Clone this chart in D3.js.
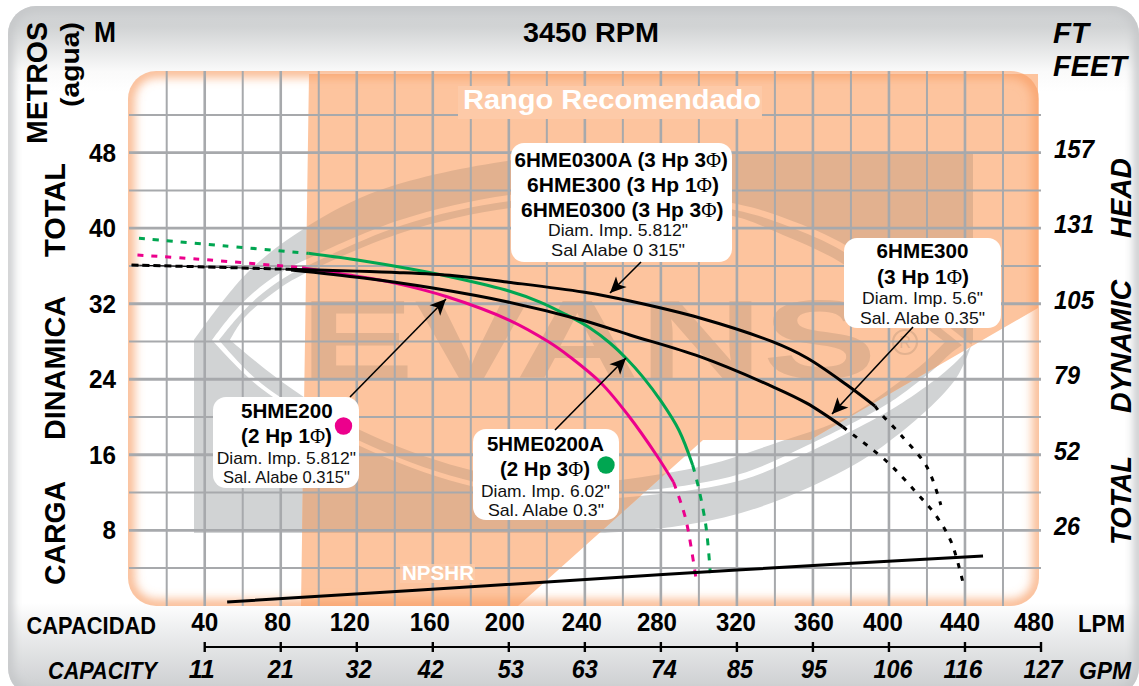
<!DOCTYPE html>
<html><head><meta charset="utf-8">
<script src="https://cdn.jsdelivr.net/npm/d3@7"></script>
<style>html,body{margin:0;padding:0;background:#fff}svg{display:block}text{font-family:"Liberation Sans",Arial,sans-serif}</style>
</head><body><svg id="c" width="1139" height="686"></svg>
<script>
// ---- data (capacity in LPM, head in metres) ----
const lpmTicks=[40,80,120,160,200,240,280,320,360,400,440,480];
const lpmNudge=[0,-3,-7,-3,-4,-3,-4,-1,1,-6,-5,-7];
const gpmLabels=[11,21,32,42,53,63,74,85,95,106,116,127];
const gpmNudge=[-3,0,2,-2,2,0,3,3,1,4,-2,2];
const meterTicks=[48,40,32,24,16,8];
const feetLabels=[157,131,105,79,52,26];
const green=[[94.5,37.34],[123.6,36.53],[148.5,35.68],[169.6,34.83],[200.1,33.35],[216.4,32.18],[229.5,30.91],[242.7,29.43],[253.2,27.84],[261.6,26.25],[270.6,24.23],[280,21.7],[289.5,18.6],[296.7,14.92]];
const greenDashA=[[5.4,38.93],[49.6,38.15],[94.5,37.34]];
const greenDashB=[[296.7,14.92],[299.5,12.8],[303.7,8.45],[306,3.47]];
const pink=[[91.2,35.82],[115.9,35.04],[140.6,34.16],[167.5,32.74],[200.1,30.27],[221.1,27.94],[232.2,26.36],[248.5,23.6],[262.7,20.21],[278,15.87],[286.6,13.11]];
const pinkDashA=[[4.6,37.16],[35.4,36.74],[91.2,35.82]];
const pinkDashB=[[286.6,13.11],[288.5,12.09],[293.2,9.09],[298.6,2.73]];
const blackDashA=[[1.5,36.1],[40,35.9],[83.3,35.65]];
const blackUpper=[[83.3,35.65],[142.7,35.29],[171.3,34.96],[199,34.3],[239,33.24],[263.7,32.29],[300.6,30.49],[339,27.95],[356.9,26.25],[377.9,23.39],[392.6,21.17]];
const blackUpperDash=[[392.6,21.17],[395.5,20.42],[406.3,18.09],[420,14.7],[427.3,10.68]];
const blackLower=[[85.4,35.57],[123.6,34.72],[160,33.66],[198.9,32.21],[238.3,30.27],[263.7,28.69],[300.6,26.39],[339,23.2],[356.7,21.47],[375.7,18.97]];
const blackLowerDash=[[375.7,18.97],[380,18.3],[399.2,15.23],[414.6,11.95],[424.5,9.62],[432.7,6.79],[439,2.42]];
const npshr=[[51.8,0.4],[232.2,2.68],[320,3.79],[449.5,5.28]];

// ---- scales ----
const x=d3.scaleLinear().domain([0,480]).range([128.7,1041]);
const y=d3.scaleLinear().domain([0,48]).range([605.8,152.7]);
const svg=d3.select('#c');
const defs=svg.append('defs');
const gray='#d1d3d4',tan='#e2b18f',orange='#fdc49e',gridc='#a7a9ac';

// defs
const bgG=defs.append('linearGradient').attr('id','bg').attr('x1',0).attr('x2',0).attr('y1',0).attr('y2',1);
[[0,'#cfd1d3'],[.03,'#d1d3d4'],[.095,'#fafafa'],[.125,'#ffffff'],[.865,'#ffffff'],[.9,'#eff0f1'],[1,'#c9cbcd']].forEach(s=>bgG.append('stop').attr('offset',s[0]).attr('stop-color',s[1]));
const blur=(id,s)=>defs.append('filter').attr('id',id).attr('x','-5%').attr('y','-5%').attr('width','110%').attr('height','110%').append('feGaussianBlur').attr('stdDeviation',s);
blur('b1',5);blur('b2',6);
defs.append('clipPath').attr('id','panelClip').append('rect').attr('x',128).attr('y',71).attr('width',911).attr('height',535).attr('rx',28);
defs.append('clipPath').attr('id','bgClip').append('rect').attr('x',8).attr('y',6).attr('width',1131).attr('height',690).attr('rx',28);
const orangePts=[[309,74],[1038,74],[1038,308],[810,440],[703,440],[518,606],[301,606]];
const orangeD='M'+orangePts.join('L')+'Z';
defs.append('clipPath').attr('id','orangeClip').append('path').attr('d',orangeD);
const marker=defs.append('marker').attr('id','arrow').attr('markerUnits','userSpaceOnUse').attr('markerWidth',20).attr('markerHeight',20).attr('refX',16).attr('refY',8).attr('orient','auto').attr('overflow','visible');
marker.append('path').attr('d','M16,8L0,0.5L4,8L0,15.5Z').attr('fill','#000');

// helper for fitted text
function T(g,str,x1,x2,base,size,o={}){
  const t=g.append('text').attr('x',x1).attr('y',base).attr('font-size',size)
    .attr('font-weight',o.w||'bold').attr('font-style',o.i?'italic':'normal').attr('fill',o.c||'#000')
    .attr('textLength',x2-x1).attr('lengthAdjust','spacingAndGlyphs');
  String(str).split('Φ').forEach((p,i)=>{
    if(i>0) t.append('tspan').attr('font-family','"Liberation Serif",serif').attr('font-weight','normal').text('Φ');
    if(p) t.append('tspan').text(p);
  });
  return t;
}
function V(g,str,xb,yTop,yBot,size,o={}){ // rotated -90
  const t=g.append('text').attr('transform',`translate(${xb},${yBot}) rotate(-90)`).attr('font-size',size)
    .attr('font-weight','bold').attr('font-style',o.i?'italic':'normal').attr('fill','#000')
    .attr('textLength',yBot-yTop).attr('lengthAdjust','spacingAndGlyphs').text(str);
  return t;
}

// background
const bg=svg.append('g');
bg.append('rect').attr('x',8).attr('y',6).attr('width',1131).attr('height',690).attr('rx',28).attr('fill','url(#bg)');
bg.append('g').attr('clip-path','url(#bgClip)').append('rect').attr('x',8).attr('y',6).attr('width',1131).attr('height',690).attr('rx',28)
  .attr('fill','none').attr('stroke','#c4c6c8').attr('stroke-width',10).attr('filter','url(#b1)');

// panel
svg.append('rect').attr('x',128).attr('y',71).attr('width',911).attr('height',535).attr('rx',28).attr('fill','#fff');

// logo
const cr=d3.line().curve(d3.curveCatmullRom.alpha(.5));
const outerTop=[[194,340],[247,273],[305,228],[380,190],[513,160],[620,153]];
const outerBot=[[973,340],[955,380],[879,449],[810,487],[741,513],[672,527],[603,533]];
const outerD=cr(outerTop)+'L973,153'+'L'+cr(outerBot).slice(1)+'L194,533Z';
const s1=cr([[212,340],[233,313],[253,293],[280,273],[305,260],[400,220],[509,195],[620,190],[737,204],[787,219],[847,246],[905,292],[972,345]])+'L'+cr([[972,345],[958,360],[940,376],[902,403],[880,416],[811,451],[742,480],[650,495],[560,499],[463,484],[360,446],[262,389],[212,340]]).slice(1)+'Z';
const s2=cr([[219,340],[238,317],[258,297],[284,278],[309,265],[403,225],[510,201],[620,196],[735,210],[785,225],[844,252],[900,296],[962,345]])+'L'+cr([[962,345],[950,354],[934,369],[898,397],[877,410],[808,445],[740,474],[650,490],[560,494],[463,479],[360,441],[262,384],[219,340]]).slice(1)+'Z';
const hollow=cr([[230,340],[245,317],[280,288],[306,273],[404,232],[510,208],[620,203],[733,216],[783,235],[840,262],[895,304],[945,342]])+'L'+cr([[945,342],[925,362],[895,385],[845,418],[776,443],[707,465],[620,480],[560,484],[463,468],[360,430],[285,384],[230,340]]).slice(1)+'Z';
const logoD=outerD+s1+s2+hollow;
const drawLogo=(g,c)=>{
  g.append('path').attr('d',logoD).attr('fill-rule','evenodd').attr('fill',c);
  g.append('text').attr('x',300).attr('y',378).attr('font-size',111).attr('font-weight','bold').attr('fill',c)
    .attr('textLength',577).attr('lengthAdjust','spacingAndGlyphs').text('EVANS');
};
drawLogo(svg.append('g'),gray);
svg.append('path').attr('d',orangeD).attr('fill',orange);
const tanG=svg.append('g').attr('clip-path','url(#orangeClip)');
drawLogo(tanG,tan);
tanG.append('circle').attr('cx',905).attr('cy',342).attr('r',12).attr('fill','none').attr('stroke',tan).attr('stroke-width',2.2);
tanG.append('text').attr('x',905).attr('y',348).attr('text-anchor','middle').attr('font-size',16).attr('fill',tan).text('R');

// panel glow
svg.append('g').attr('clip-path','url(#panelClip)').append('rect').attr('x',128).attr('y',71).attr('width',911).attr('height',535).attr('rx',28)
  .attr('fill','none').attr('stroke','#f79a5e').attr('stroke-width',9).attr('filter','url(#b2)');

// grid via axes
const gridX=svg.append('g').attr('transform','translate(0,606)')
  .call(d3.axisBottom(x).tickValues(d3.range(20,480,20)).tickSizeOuter(0).tickSizeInner(-535).tickFormat('').offset(0));
gridX.select('.domain').remove();
gridX.selectAll('line').attr('stroke',gridc).attr('stroke-width',d=>d%40==0?2.6:2);
const gridY=svg.append('g').attr('transform','translate(129,0)')
  .call(d3.axisRight(y).tickValues(d3.range(4,56,4)).tickSizeOuter(0).tickSizeInner(912).tickFormat('').offset(0));
gridY.select('.domain').remove();
gridY.selectAll('line').attr('stroke',gridc).attr('stroke-width',d=>d%8==0?2.8:2);

// rango label
svg.append('rect').attr('x',458).attr('y',86).attr('width',304).attr('height',33).attr('fill','#fdcaa8');
T(svg,'Rango Recomendado',463,761,109,27,{c:'#fff'});

// series
const line=d3.line().x(d=>x(d[0])).y(d=>y(d[1])).curve(d3.curveCatmullRom.alpha(.5));
const gS=svg.append('g').attr('fill','none');
const draw=(d,c,w,dash)=>gS.append('path').datum(d).attr('d',line).attr('stroke',c).attr('stroke-width',w).attr('stroke-dasharray',dash||null);
const G='#00a651',P='#ec008c',K='#000';
draw(greenDashA,G,3,'6,8');draw(greenDashB,G,3,'7,8');
draw(pinkDashA,P,3,'6,8');draw(pinkDashB,P,3,'7,8');
draw(blackDashA,K,1,null);draw(blackDashA,K,3,'7,4');
draw(blackUpperDash,K,3,'5,8');draw(blackLowerDash,K,3,'5,8');
draw(green,G,3);draw(pink,P,3);draw(blackUpper,K,3);draw(blackLower,K,3);
draw(npshr,K,3);

// NPSHR label
svg.append('rect').attr('x',400).attr('y',564).attr('width',75).attr('height',19).attr('fill','#fdcaa8').attr('opacity',.8);
T(svg,'NPSHR',402,474,580,19.5,{c:'#fff'});

// label boxes
const boxes=svg.append('g');
const box=(x1,y1,x2,y2)=>boxes.append('rect').attr('x',x1).attr('y',y1).attr('width',x2-x1).attr('height',y2-y1).attr('rx',13).attr('fill','#fff');
box(511,143,732,262);box(844,238,1001,328);box(213,397,359,488);box(473,429,619,520);
const reg={w:'normal',c:'#111'};
T(boxes,'6HME0300A (3 Hp 3Φ)',514.5,728,166.7,20);
T(boxes,'6HME300  (3 Hp 1Φ)',527,719,191.7,20);
T(boxes,'6HME0300 (3 Hp 3Φ)',521,723.5,216.7,20);
T(boxes,'Diam. Imp. 5.812"',548,688,236,17,reg);
T(boxes,'Sal  Alabe 0 315"',551,685,256,17,reg);
T(boxes,'6HME300',876.6,968.4,258,20);
T(boxes,'(3 Hp 1Φ)',877,969,284,20);
T(boxes,'Diam. Imp. 5.6"',862,983,304.3,17,reg);
T(boxes,'Sal. Alabe 0.35"',860,985,324.3,17,reg);
T(boxes,'5HME200',241,332.7,418,20);
T(boxes,'(2 Hp 1Φ)',241,332,443,20);
T(boxes,'Diam. Imp. 5.812"',216.7,356,464.3,17,reg);
T(boxes,'Sal. Alabe 0.315"',223,350,483,17,reg);
T(boxes,'5HME0200A',487,604,451,20);
T(boxes,'(2 Hp 3Φ)',500,590,476,20);
T(boxes,'Diam. Imp. 6.02"',481,610,497,17,reg);
T(boxes,'Sal. Alabe 0.3"',488,604,516,17,reg);
boxes.append('circle').attr('cx',343.5).attr('cy',426).attr('r',8.7).attr('fill',P);
boxes.append('circle').attr('cx',606).attr('cy',465).attr('r',8.7).attr('fill',G);

// arrows
const arrows=[[350,397,446,299],[555,430,626,358],[641,262,610,293],[913,327,832,414]];
svg.append('g').selectAll('line').data(arrows).join('line')
  .attr('x1',d=>d[0]).attr('y1',d=>d[1]).attr('x2',d=>d[2]).attr('y2',d=>d[3])
  .attr('stroke','#000').attr('stroke-width',1.6).attr('marker-end','url(#arrow)');

// left metres axis
const ax=svg.append('g');
const axL=ax.append('g').attr('transform','translate(116,0)').call(d3.axisLeft(y).tickValues(meterTicks).tickSize(0).tickPadding(0).offset(0));
axL.select('.domain').remove();
axL.selectAll('text').attr('font-size',26).attr('font-weight','bold').attr('fill','#000').attr('dy',9).attr('x',0).attr('text-anchor','end').attr('textLength',d=>d<10?13.5:27).attr('lengthAdjust','spacingAndGlyphs').style('font-family','"Liberation Sans"');
// right feet axis
const feetByM=new Map(meterTicks.map((m,i)=>[m,feetLabels[i]]));
const axR=ax.append('g').attr('transform','translate(1054,0)').call(d3.axisRight(y).tickValues(meterTicks).tickSize(0).tickPadding(0).offset(0).tickFormat(d=>feetByM.get(d)));
axR.select('.domain').remove();
axR.selectAll('text').attr('font-size',25).attr('font-weight','bold').attr('font-style','italic').attr('fill','#000').attr('dy',5).attr('x',0).attr('text-anchor','start').attr('textLength',d=>feetByM.get(d)>99?40:26).attr('lengthAdjust','spacingAndGlyphs').style('font-family','"Liberation Sans"');
// LPM labels
const axB=ax.append('g').attr('transform','translate(0,631)').call(d3.axisBottom(x).tickValues(lpmTicks).tickSize(0).tickPadding(0).offset(0));
axB.select('.domain').remove();
axB.selectAll('text').attr('font-size',25).attr('font-weight','bold').attr('fill','#000').attr('y',0).attr('dy',0)
  .attr('dx',(d,i)=>lpmNudge[i]).attr('textLength',d=>d<100?27:40).attr('lengthAdjust','spacingAndGlyphs').style('font-family','"Liberation Sans"');
// GPM axis
const gpmBy=new Map(lpmTicks.map((m,i)=>[m,gpmLabels[i]]));
const axG=ax.append('g').attr('transform','translate(0,647)').call(d3.axisBottom(x).tickValues(lpmTicks).tickSize(5).tickPadding(0).offset(0).tickFormat(d=>gpmBy.get(d)));
axG.select('.domain').remove();
axG.append('line').attr('x1',x(40)).attr('x2',x(480)).attr('stroke','#000').attr('stroke-width',2);
axG.selectAll('.tick line').attr('y1',-5).attr('y2',5).attr('stroke','#000').attr('stroke-width',2.4);
axG.selectAll('text').attr('font-size',25).attr('font-weight','bold').attr('font-style','italic').attr('fill','#000').attr('y',31).attr('dy',0)
  .attr('dx',(d,i)=>gpmNudge[i]).attr('textLength',d=>gpmBy.get(d)>99?39:26).attr('lengthAdjust','spacingAndGlyphs').style('font-family','"Liberation Sans"');

// titles
T(ax,'3450 RPM',523,659,42,27);
T(ax,'M',94,116,41.6,29);
T(ax,'FT',1053,1089,42.7,29,{i:1});
T(ax,'FEET',1053,1127,76,29,{i:1});
T(ax,'CAPACIDAD',26.5,156,634,24);
T(ax,'LPM',1078,1125,632,24);
T(ax,'CAPACITY',48,157,679,24,{i:1});
T(ax,'GPM',1079,1131,679,24,{i:1});
V(ax,'METROS',47,22,144,30);
V(ax,'(agua)',79,22,107,26);
V(ax,'TOTAL',65,163,257,30);
V(ax,'DINAMICA',65,296,440,30);
V(ax,'CARGA',65,481,585,30);
V(ax,'HEAD',1131,158,238,29,{i:1});
V(ax,'DYNAMIC',1131,280,413,29,{i:1});
V(ax,'TOTAL',1131,456,545,29,{i:1});
</script></body></html>
